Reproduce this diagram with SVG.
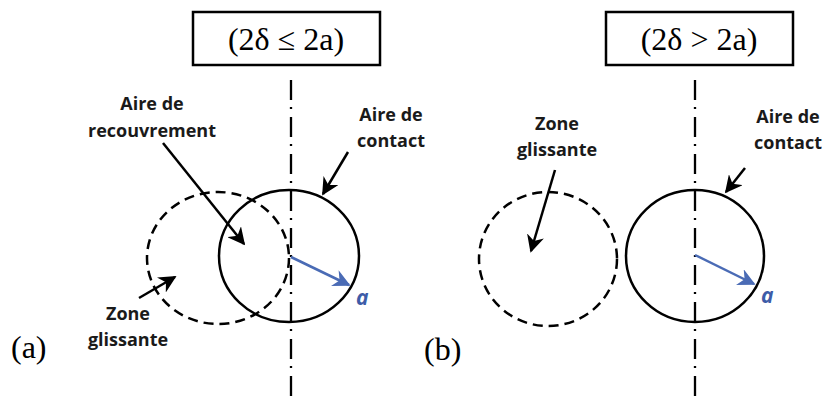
<svg xmlns="http://www.w3.org/2000/svg" width="824" height="396" viewBox="0 0 824 396">
<style>
.box{fill:#fff;stroke:#000;stroke-width:2.5}
.f{font-family:"Liberation Serif","Times New Roman",serif;font-size:32px;fill:#000}
.lbl{font-family:"Open Sans","Liberation Sans",sans-serif;font-weight:bold;font-size:18px;fill:#1a1a1a;text-anchor:middle}
.axis{stroke:#000;stroke-width:2.3;stroke-dasharray:20 7 2 8;fill:none}
.solid{fill:none;stroke:#000;stroke-width:2.5}
.dash{fill:none;stroke:#000;stroke-width:2.5;stroke-dasharray:10 6}
.arr{stroke:#000;stroke-width:2.5;fill:none;marker-end:url(#ah)}
.blue{stroke:#4a6bb5;stroke-width:2.5;fill:none;marker-end:url(#bh)}
.a{font-family:"Open Sans","Liberation Sans",sans-serif;font-weight:bold;font-style:italic;font-size:21px;fill:#3d5ca8}
</style>
<defs>
<marker id="ah" viewBox="0 0 10 10" refX="9" refY="5" markerWidth="7" markerHeight="7" markerUnits="strokeWidth" orient="auto">
<path d="M0,0 L10,5 L0,10 L3,5 Z" fill="#000"/>
</marker>
<marker id="bh" viewBox="0 0 10 10" refX="9" refY="5" markerWidth="7" markerHeight="7" markerUnits="strokeWidth" orient="auto">
<path d="M0,0 L10,5 L0,10 L3,5 Z" fill="#4a6bb5"/>
</marker>
</defs>

<g id="panel-a">
<g id="box-a"><rect class="box" x="193" y="12" width="187" height="53"/><text class="f" x="286" y="50" text-anchor="middle">(2δ ≤ 2a)</text></g>
<g id="zone-a"><ellipse class="dash" cx="218" cy="258" rx="71" ry="66"/></g>
<g id="contact-a"><ellipse class="solid" cx="289" cy="256" rx="70" ry="66"/></g>
<g id="label-recouvrement"><text class="lbl" x="152" y="110">Aire de</text><text class="lbl" x="152" y="137">recouvrement</text></g>
<g id="label-contact-a"><text class="lbl" x="391" y="121">Aire de</text><text class="lbl" x="391" y="147">contact</text></g>
<g id="label-zone-a"><text class="lbl" x="128" y="320">Zone</text><text class="lbl" x="128" y="346">glissante</text></g>
<g id="label-a-a"><text class="a" x="356" y="305">a</text></g>
<g id="tag-a"><text class="f" x="11" y="358" font-size="30">(a)</text></g>
</g>

<g id="panel-b">
<g id="box-b"><rect class="box" x="606" y="12" width="187" height="53"/><text class="f" x="699" y="50" text-anchor="middle">(2δ &gt; 2a)</text></g>
<g id="zone-b"><ellipse class="dash" cx="548" cy="259" rx="69" ry="67"/></g>
<g id="contact-b"><ellipse class="solid" cx="695" cy="256" rx="69" ry="66"/></g>
<g id="label-zone-b"><text class="lbl" x="557" y="130">Zone</text><text class="lbl" x="557" y="156">glissante</text></g>
<g id="label-contact-b"><text class="lbl" x="788" y="123">Aire de</text><text class="lbl" x="788" y="149">contact</text></g>
<g id="label-a-b"><text class="a" x="761" y="303">a</text></g>
<g id="tag-b"><text class="f" x="424" y="360" font-size="30">(b)</text></g>
</g>

<g id="connectors">
<line class="axis" x1="291" y1="80" x2="291" y2="396"/>
<line class="axis" x1="695" y1="80" x2="695" y2="396"/>
<line class="arr" x1="163" y1="143" x2="244" y2="244"/>
<line class="arr" x1="348" y1="152" x2="323" y2="194"/>
<line class="arr" x1="139" y1="298" x2="175" y2="277"/>
<line class="arr" x1="555" y1="170" x2="531" y2="251"/>
<line class="arr" x1="745" y1="168" x2="726" y2="192"/>
<line class="blue" x1="291" y1="257" x2="349" y2="285"/>
<line class="blue" x1="695" y1="255" x2="754" y2="284"/>
</g>
</svg>
